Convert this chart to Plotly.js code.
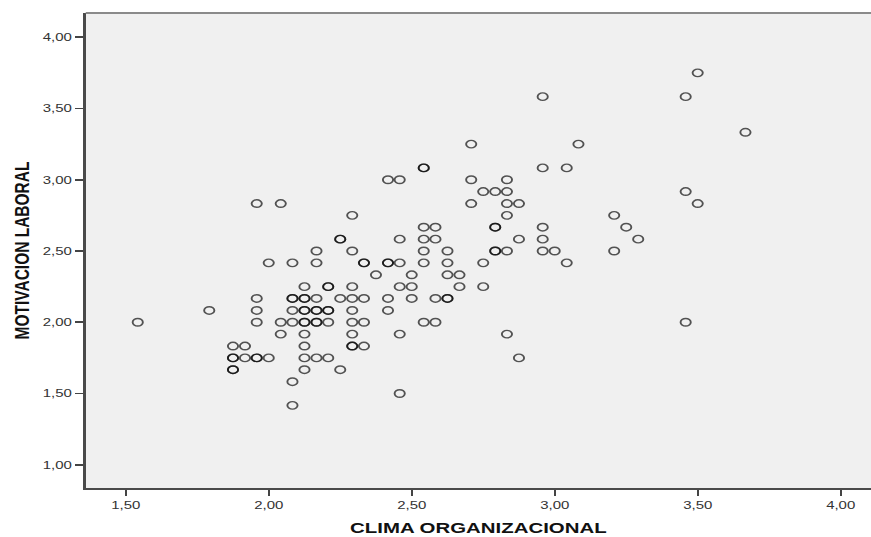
<!DOCTYPE html>
<html>
<head>
<meta charset="utf-8">
<script src="https://cdn.plot.ly/plotly-3.0.1.min.js"></script>
<style>
  html, body { margin: 0; padding: 0; background: #ffffff; overflow: hidden; }
  /* the chart is laid out at 640px and widened to the 871px page */
  #chart { width: 640px; height: 537px; transform: scaleX(1.36094); transform-origin: 0 0; }
</style>
</head>
<body>
<div id="chart"></div>
<script>
// Clima organizacional (x) against motivación laboral (y), one entry per respondent,
// listed row by row from the highest motivation score down.
const clima = [
  3.500,
  2.958, 3.458,
  3.667,
  2.708, 3.083,
  2.542, 2.542, 2.958, 3.042,
  2.417, 2.458, 2.708, 2.833,
  2.750, 2.792, 2.833, 3.458,
  1.958, 2.042, 2.708, 2.833, 2.875, 3.500,
  2.292, 2.833, 3.208,
  2.542, 2.583, 2.792, 2.792, 2.958, 3.250,
  2.250, 2.250, 2.458, 2.542, 2.583, 2.875, 2.958, 3.292,
  2.167, 2.292, 2.542, 2.625, 2.792, 2.792, 2.833, 2.958, 3.000, 3.208,
  2.000, 2.083, 2.167, 2.333, 2.333, 2.417, 2.417, 2.458, 2.542, 2.625, 2.750, 3.042,
  2.375, 2.500, 2.625, 2.667,
  2.125, 2.208, 2.208, 2.292, 2.458, 2.500, 2.667, 2.750,
  1.958, 2.083, 2.083, 2.125, 2.125, 2.167, 2.250, 2.292, 2.333, 2.417, 2.500, 2.583, 2.625, 2.625,
  1.792, 1.958, 2.083, 2.125, 2.125, 2.167, 2.167, 2.208, 2.208, 2.292, 2.417,
  1.542, 1.958, 2.042, 2.083, 2.125, 2.125, 2.167, 2.167, 2.208, 2.292, 2.333, 2.542, 2.583, 3.458,
  2.042, 2.125, 2.292, 2.458, 2.833,
  1.875, 1.917, 2.125, 2.292, 2.292, 2.333,
  1.875, 1.875, 1.917, 1.958, 1.958, 2.000, 2.125, 2.167, 2.208, 2.875,
  1.875, 1.875, 2.125, 2.250,
  2.083,
  2.458,
  2.083
];

const motivacion = [
  3.750,
  3.583, 3.583,
  3.333,
  3.250, 3.250,
  3.083, 3.083, 3.083, 3.083,
  3.000, 3.000, 3.000, 3.000,
  2.917, 2.917, 2.917, 2.917,
  2.833, 2.833, 2.833, 2.833, 2.833, 2.833,
  2.750, 2.750, 2.750,
  2.667, 2.667, 2.667, 2.667, 2.667, 2.667,
  2.583, 2.583, 2.583, 2.583, 2.583, 2.583, 2.583, 2.583,
  2.500, 2.500, 2.500, 2.500, 2.500, 2.500, 2.500, 2.500, 2.500, 2.500,
  2.417, 2.417, 2.417, 2.417, 2.417, 2.417, 2.417, 2.417, 2.417, 2.417, 2.417, 2.417,
  2.333, 2.333, 2.333, 2.333,
  2.250, 2.250, 2.250, 2.250, 2.250, 2.250, 2.250, 2.250,
  2.167, 2.167, 2.167, 2.167, 2.167, 2.167, 2.167, 2.167, 2.167, 2.167, 2.167, 2.167, 2.167, 2.167,
  2.083, 2.083, 2.083, 2.083, 2.083, 2.083, 2.083, 2.083, 2.083, 2.083, 2.083,
  2.000, 2.000, 2.000, 2.000, 2.000, 2.000, 2.000, 2.000, 2.000, 2.000, 2.000, 2.000, 2.000, 2.000,
  1.917, 1.917, 1.917, 1.917, 1.917,
  1.833, 1.833, 1.833, 1.833, 1.833, 1.833,
  1.750, 1.750, 1.750, 1.750, 1.750, 1.750, 1.750, 1.750, 1.750, 1.750,
  1.667, 1.667, 1.667, 1.667,
  1.583,
  1.500,
  1.417
];

const xTicks = [1.5, 2.0, 2.5, 3.0, 3.5, 4.0];
const yTicks = [1.0, 1.5, 2.0, 2.5, 3.0, 3.5, 4.0];

const xTitle = 'CLIMA ORGANIZACIONAL';
const yTitle = 'MOTIVACION LABORAL';

const baseFont = "Arial, 'Liberation Sans', sans-serif";

const trace = {
  type: 'scatter',
  mode: 'markers',
  x: clima,
  y: motivacion,
  hoverinfo: 'skip',
  marker: {
    symbol: 'circle-open',
    size: 7.5,
    color: 'rgba(0,0,0,0.66)',
    line: { width: 1.4 }
  }
};

const axisCommon = {
  showgrid: false,
  zeroline: false,
  showline: true,
  linecolor: '#4a4a4a',
  linewidth: 2,
  ticks: 'outside',
  ticklen: 6,
  tickwidth: 1.6,
  tickcolor: '#444444',
  tickformat: '.2f',
  tickfont: { family: baseFont, size: 11, color: '#333333' },
  fixedrange: true
};

const layout = {
  width: 640,
  height: 537,
  margin: { l: 63, r: 0, t: 13, b: 49, pad: 0 },
  paper_bgcolor: '#ffffff',
  plot_bgcolor: '#f0f0f0',
  separators: ',.',
  showlegend: false,
  xaxis: Object.assign({}, axisCommon, {
    range: [1.3601, 4.106],
    tickvals: xTicks,
    title: {
      text: xTitle,
      standoff: 12,
      font: { family: baseFont, size: 15, color: '#111111', weight: 700 }
    }
  }),
  yaxis: Object.assign({}, axisCommon, {
    range: [0.837, 4.170],
    tickvals: yTicks,
    title: {
      text: yTitle,
      standoff: 6,
      font: { family: baseFont, size: 15.5, color: '#111111', weight: 700 }
    }
  }),
  shapes: [{
    type: 'line', xref: 'paper', yref: 'paper',
    x0: 0, x1: 1, y0: 1, y1: 1,
    line: { color: '#8a8a8a', width: 2 }
  }]
};

Plotly.newPlot('chart', [trace], layout, { displayModeBar: false, staticPlot: true });
</script>
</body>
</html>
